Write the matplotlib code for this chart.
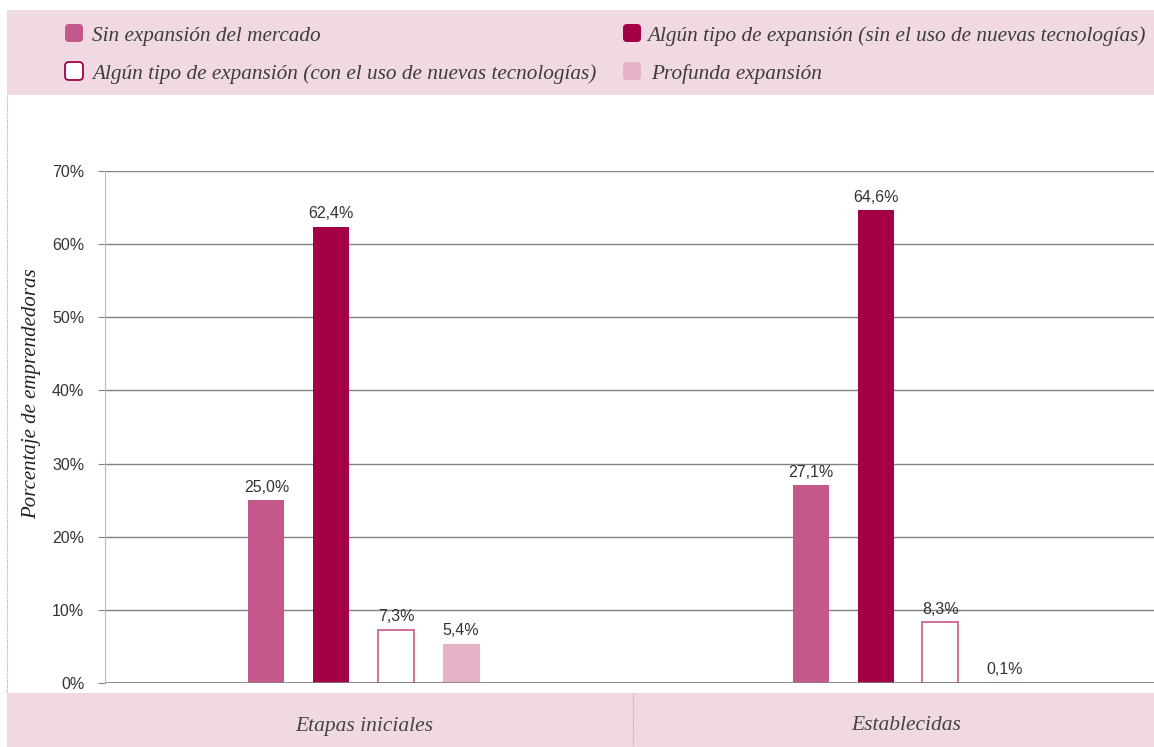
import matplotlib.pyplot as plt
from matplotlib.patches import FancyBboxPatch, Rectangle

categories = ["Etapas iniciales", "Establecidas"]
series_names = [
    "Sin expansión del mercado",
    "Algún tipo de expansión (sin el uso de nuevas tecnologías)",
    "Algún tipo de expansión (con el uso de nuevas tecnologías)",
    "Profunda expansión",
]
values = [
    [25.0, 27.1],
    [62.4, 64.6],
    [7.3, 8.3],
    [5.4, 0.1],
]
labels = [
    ["25,0%", "27,1%"],
    ["62,4%", "64,6%"],
    ["7,3%", "8,3%"],
    ["5,4%", "0,1%"],
]
yticks = [0, 10, 20, 30, 40, 50, 60, 70]

PINK_BAND = "#F0D9E3"
C1 = "#C4588A"
C2 = "#A30046"
C3_EDGE = "#C4588A"
C4 = "#E5B3C8"
GRID = "#808080"
TEXT = "#333333"

W, H = 1154, 747
fig = plt.figure(figsize=(W / 100, H / 100), dpi=100)

# overlay in pixel units for bands, legend and category labels
bg = fig.add_axes([0, 0, 1, 1], zorder=0)
bg.set_xlim(0, W)
bg.set_ylim(H, 0)
bg.axis("off")
bg.add_patch(Rectangle((7, 10), W - 7, 85, facecolor=PINK_BAND, edgecolor="none"))
bg.add_patch(Rectangle((7, 693), W - 7, 54, facecolor=PINK_BAND, edgecolor="none"))
bg.plot([7, 7], [95, 693], color="#E08CB0", linestyle=(0, (1, 1)), linewidth=0.8)
bg.plot([633, 633], [693, 747], color="#E08CB0", linestyle=(0, (1, 1)), linewidth=0.8)

for px, cat in [(364, categories[0]), (906, categories[1])]:
    bg.text(px, 726, cat, ha="center", va="center", fontsize=15.5,
            style="italic", family="Liberation Serif", color="#444444")

legend_items = [(65, 33, 92), (623, 33, 647), (65, 71, 92), (623, 71, 651)]
marker_styles = [
    dict(facecolor=C1, edgecolor="none"),
    dict(facecolor=C2, edgecolor="none"),
    dict(facecolor="white", edgecolor=C2, linewidth=1.3),
    dict(facecolor=C4, edgecolor="none"),
]
for i, (mx, my, tx) in enumerate(legend_items):
    bg.add_patch(FancyBboxPatch((mx + 1, my - 8), 16, 16,
                                boxstyle="round,pad=1,rounding_size=4",
                                **marker_styles[i]))
    bg.text(tx, my + 3, series_names[i], ha="left", va="center", fontsize=15.3,
            style="italic", family="Liberation Serif", color="#3d3d3d")

ax = fig.add_axes([105 / W, 1 - 683 / H, (W - 105) / W, (683 - 171) / H], zorder=1)
ax.patch.set_alpha(0)

step = 0.119
width = 0.066
offsets = [-1.5 * step, -0.5 * step, 0.5 * step, 1.5 * step]
styles = [
    dict(color=C1),
    dict(color=C2),
    dict(facecolor="white", edgecolor=C3_EDGE, linewidth=1.2),
    dict(color=C4, edgecolor=C4, linewidth=0.8),
]
for i in range(4):
    xs = [c + offsets[i] for c in range(len(categories))]
    ax.bar(xs, values[i], width=width, zorder=3, **styles[i])
    for x, v, lab in zip(xs, values[i], labels[i]):
        ax.text(x, v + 0.7, lab, ha="center", va="bottom", fontsize=11.5,
                color=TEXT, family="Liberation Sans", zorder=4)

ax.set_xlim(-0.475, 1.452)
ax.set_ylim(0, 70)
ax.set_yticks(yticks)
ax.set_yticklabels([f"{t}%" for t in yticks], fontsize=11.5, color=TEXT,
                   family="Liberation Sans")
ax.set_xticks([])
ax.grid(axis="y", color=GRID, linewidth=1.0, zorder=0)
ax.tick_params(axis="y", length=5, color=GRID, pad=10)
for s in ["top", "right", "bottom"]:
    ax.spines[s].set_visible(False)
ax.spines["left"].set_color("#BBBBBB")
ax.axhline(0, color=GRID, linewidth=1.2, zorder=5)

ax.set_ylabel("Porcentaje de emprendedoras", fontsize=15, style="italic",
              family="Liberation Serif", color="#222222")
ax.yaxis.set_label_coords(-0.061, 0.566)

fig.savefig("out.png", dpi=100)
